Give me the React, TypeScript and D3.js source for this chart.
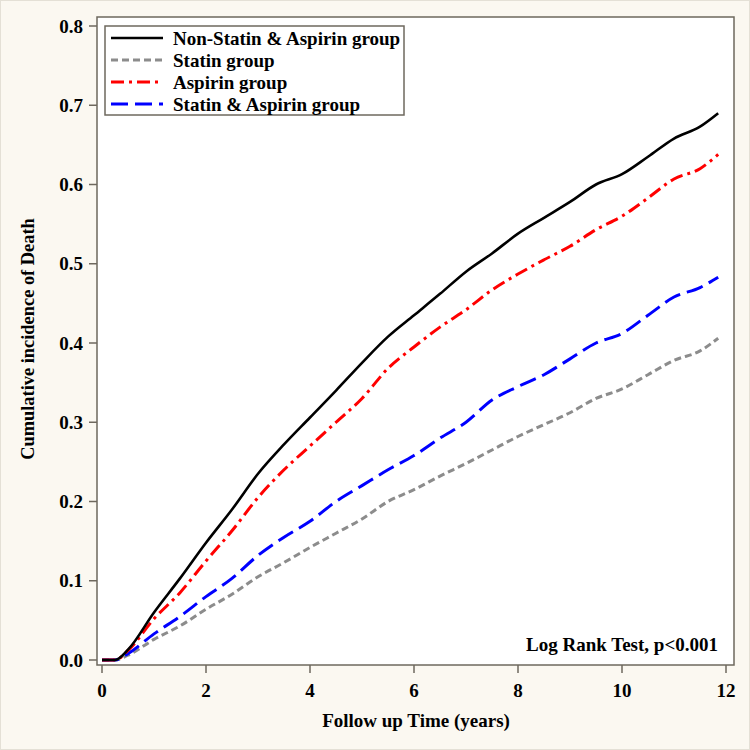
import React from "react";
import * as d3 from "d3";

const times = [0, 0.25, 0.5, 1, 1.5, 2, 2.5, 3, 3.5, 4, 4.5, 5, 5.5, 6, 6.5, 7, 7.5, 8, 8.5, 9, 9.5, 10, 10.5, 11, 11.5, 11.85];
const nonStatinAspirin = [0, 0, 0.013, 0.06, 0.103, 0.148, 0.19, 0.235, 0.272, 0.306, 0.34, 0.375, 0.408, 0.435, 0.462, 0.49, 0.513, 0.538, 0.558, 0.578, 0.6, 0.613, 0.635, 0.658, 0.673, 0.69];
const statin = [0, 0, 0.006, 0.026, 0.043, 0.064, 0.083, 0.105, 0.123, 0.142, 0.16, 0.178, 0.2, 0.215, 0.232, 0.248, 0.265, 0.282, 0.297, 0.312, 0.33, 0.342, 0.36, 0.378, 0.39, 0.406];
const aspirin = [0, 0, 0.012, 0.052, 0.085, 0.125, 0.163, 0.205, 0.24, 0.27, 0.3, 0.33, 0.368, 0.395, 0.42, 0.442, 0.467, 0.487, 0.505, 0.522, 0.543, 0.56, 0.583, 0.607, 0.62, 0.638];
const statinAspirin = [0, 0, 0.008, 0.033, 0.055, 0.08, 0.103, 0.132, 0.155, 0.175, 0.2, 0.22, 0.24, 0.258, 0.28, 0.3, 0.328, 0.345, 0.36, 0.38, 0.4, 0.412, 0.435, 0.458, 0.47, 0.483];

const seriesNames = ["Non-Statin & Aspirin group", "Statin group", "Aspirin group", "Statin & Aspirin group"];
const xTicks = [0, 2, 4, 6, 8, 10, 12];
const yTicks = [0, 0.1, 0.2, 0.3, 0.4, 0.5, 0.6, 0.7, 0.8];

const styles = [
  { color: "#000000", dash: "none", width: 2.6 },
  { color: "#8c8c8c", dash: "7,4", width: 3 },
  { color: "#ff0000", dash: "13,5,3,5", width: 3 },
  { color: "#0000ff", dash: "17,7", width: 3 },
];

const FONT = "'Liberation Serif', 'Times New Roman', serif";

export default function App() {
  const x = d3.scaleLinear().domain([0, 12]).range([102, 726]);
  const y = d3.scaleLinear().domain([0, 0.8]).range([660, 26]);
  const frame = { l: 97, r: 734, t: 17, b: 665 };
  const all = [nonStatinAspirin, statin, aspirin, statinAspirin];
  const line = d3
    .line<[number, number]>()
    .x((d) => x(d[0]))
    .y((d) => y(d[1]))
    .curve(d3.curveMonotoneX);
  const drawOrder = [1, 3, 2, 0];

  return (
    <svg width={750} height={750} style={{ position: "absolute", left: 0, top: 0, fontFamily: FONT }}>
      <rect x={0} y={0} width={750} height={750} fill="#fbf8f1" />
      <rect x={0.5} y={0.5} width={749} height={749} fill="none" stroke="#e4e0d6" />
      <rect x={frame.l} y={frame.t} width={frame.r - frame.l} height={frame.b - frame.t} fill="#ffffff" />
      {drawOrder.map((i) => (
        <path
          key={i}
          d={line(times.map((t, k) => [t, all[i][k]] as [number, number])) || ""}
          fill="none"
          stroke={styles[i].color}
          strokeWidth={styles[i].width}
          strokeDasharray={styles[i].dash}
          strokeLinejoin="round"
        />
      ))}
      <rect
        x={frame.l}
        y={frame.t}
        width={frame.r - frame.l}
        height={frame.b - frame.t}
        fill="none"
        stroke="#6e685e"
        strokeWidth={1.5}
      />
      {yTicks.map((v) => (
        <g key={v}>
          <line x1={frame.l - 8} x2={frame.l} y1={y(v)} y2={y(v)} stroke="#6e685e" strokeWidth={1.5} />
          <text x={frame.l - 14} y={y(v) + 6.5} textAnchor="end" fontSize={19} fontWeight="bold">
            {v.toFixed(1)}
          </text>
        </g>
      ))}
      {xTicks.map((v) => (
        <g key={v}>
          <line x1={x(v)} x2={x(v)} y1={frame.b} y2={frame.b + 8} stroke="#6e685e" strokeWidth={1.5} />
          <text x={x(v)} y={697} textAnchor="middle" fontSize={19} fontWeight="bold">
            {v}
          </text>
        </g>
      ))}
      <text x={416} y={727} textAnchor="middle" fontSize={19} fontWeight="bold">
        Follow up Time (years)
      </text>
      <text
        transform={`translate(34, 339) rotate(-90)`}
        textAnchor="middle"
        fontSize={18.4}
        fontWeight="bold"
      >
        Cumulative incidence of Death
      </text>
      <text x={718} y={651} textAnchor="end" fontSize={19} fontWeight="bold">
        Log Rank Test, p&lt;0.001
      </text>
      <rect x={105} y={26} width={299} height={89} fill="#ffffff" stroke="#6e685e" strokeWidth={1.5} />
      {seriesNames.map((name, i) => {
        const ly = 38 + i * 22;
        return (
          <g key={name}>
            <line
              x1={111}
              x2={163}
              y1={ly}
              y2={ly}
              stroke={styles[i].color}
              strokeWidth={styles[i].width}
              strokeDasharray={styles[i].dash}
            />
            <text x={173} y={ly + 6.5} fontSize={19} fontWeight="bold">
              {name}
            </text>
          </g>
        );
      })}
    </svg>
  );
}
